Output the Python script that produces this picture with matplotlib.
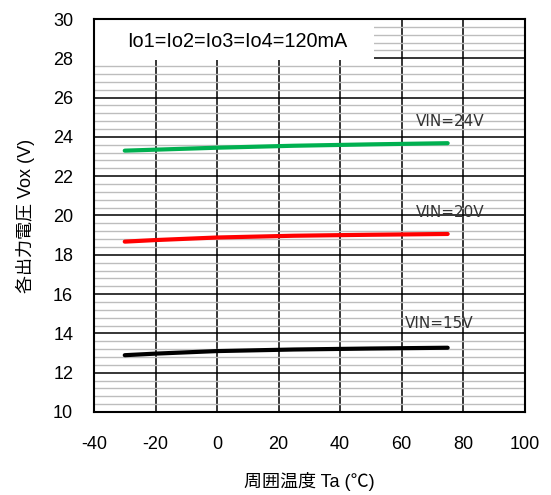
import matplotlib
matplotlib.use('Agg')
import matplotlib.pyplot as plt
from matplotlib.patches import Rectangle
from matplotlib.ticker import MultipleLocator

plt.rcParams['font.family'] = ['Liberation Sans', 'Noto Sans CJK JP']
plt.rcParams['axes.unicode_minus'] = False

# data
temp = [-30, -20, 0, 25, 50, 75]
vout_24 = [23.30, 23.35, 23.45, 23.55, 23.62, 23.68]
vout_20 = [18.67, 18.75, 18.88, 18.97, 19.02, 19.06]
vout_15 = [12.89, 12.97, 13.10, 13.18, 13.23, 13.27]
series = [('VIN=24V', vout_24, '#00b050', 64.5, 24.77),
          ('VIN=20V', vout_20, '#ff0000', 64.8, 20.14),
          ('VIN=15V', vout_15, '#000000', 61.0, 14.48)]

fig = plt.figure(figsize=(5.51, 4.95), dpi=100)
ax = fig.add_axes([0.1706, 0.1677, 0.7814, 0.7939])

ax.set_xlim(-40, 100)
ax.set_ylim(10, 30)
ax.xaxis.set_major_locator(MultipleLocator(20))
ax.yaxis.set_major_locator(MultipleLocator(2))
ax.yaxis.set_minor_locator(MultipleLocator(0.4))

ax.set_axisbelow(True)
ax.grid(which='major', color='black', linewidth=1.1)
ax.grid(which='minor', axis='y', color='#bdbdbd', linewidth=1.0)
ax.tick_params(which='both', length=0)
ax.tick_params(axis='x', pad=17, labelsize=13)
ax.tick_params(axis='y', pad=15, labelsize=13)
for s in ax.spines.values():
    s.set_linewidth(1.5)

# white box behind the condition label
ax.add_patch(Rectangle((-40, 27.9), 91, 2.1, facecolor='white',
                       edgecolor='none', zorder=1))
ax.text(-29.3, 28.83, 'Io1=Io2=Io3=Io4=120mA', fontsize=14.3,
        va='center', ha='left', zorder=3)

for name, v, c, tx, ty in series:
    ax.plot(temp, v, color=c, linewidth=3, solid_capstyle='round', zorder=4)
    ax.text(tx, ty, name, fontsize=11, color='#333333', family='DejaVu Sans',
            va='center', ha='left', zorder=4)

ax.set_xlabel('周囲温度 Ta (℃)', fontsize=13, labelpad=14)
ax.set_ylabel('各出力電圧 Vox (V)', fontsize=13, labelpad=13)

fig.savefig('out.png', dpi=100)
